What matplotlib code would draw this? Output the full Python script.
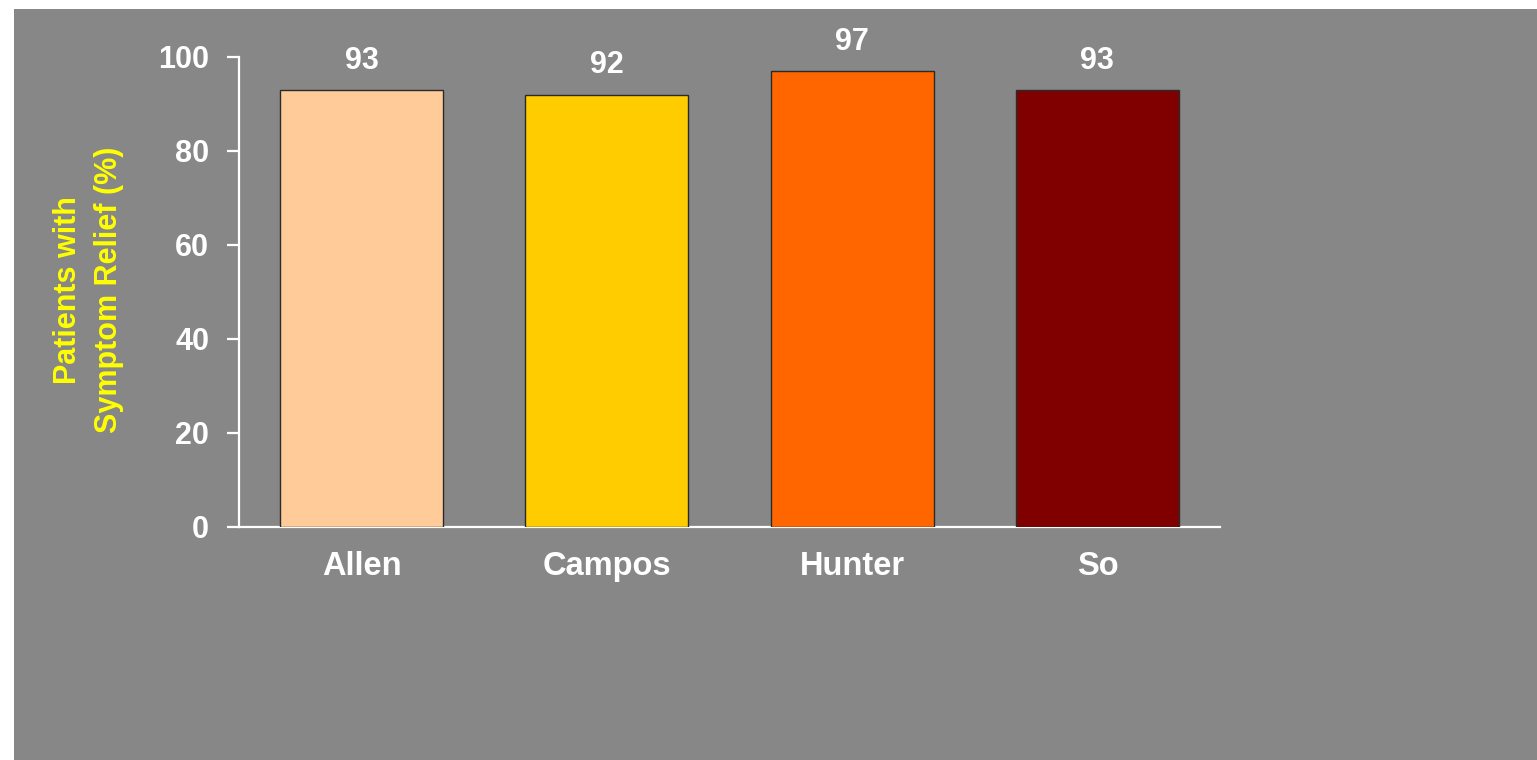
import matplotlib
matplotlib.use("Agg")
import matplotlib.pyplot as plt
from matplotlib.patches import Rectangle

plt.rcParams["font.family"] = ["Liberation Sans", "DejaVu Sans"]
plt.rcParams["font.weight"] = "bold"

# Data
studies = ["Allen", "Campos", "Hunter", "So"]
relief_pct = [93, 92, 97, 93]
bar_colors = ["#FFCC99", "#FFCC00", "#FF6600", "#800000"]
y_ticks = [0, 20, 40, 60, 80, 100]

W, H = 1537, 760
fig = plt.figure(figsize=(W / 100, H / 100), dpi=100, facecolor="white")

# Gray slide panel behind the chart
panel_color = "#878787"
fig.patches.append(Rectangle((14 / W, 0), 1 - 14 / W, (H - 9) / H,
                             transform=fig.transFigure, facecolor=panel_color,
                             edgecolor="none", zorder=-10))

ax = fig.add_axes([239 / W, (H - 527) / H, (1220 - 239) / W, (527 - 57) / H])
ax.set_facecolor("none")
ax.set_zorder(1)

x = range(len(studies))
bars = ax.bar(x, relief_pct, width=0.665, color=bar_colors,
              edgecolor="#2a2a2a", linewidth=1.0, zorder=3)

for b, v in zip(bars, relief_pct):
    ax.annotate(f"{v}", xy=(b.get_x() + b.get_width() / 2, v),
                xytext=(0, 21), textcoords="offset points",
                ha="center", va="center", color="white",
                fontsize=22, fontweight="bold", annotation_clip=False)

ax.set_xlim(-0.5, len(studies) - 0.5)
ax.set_ylim(0, 100)
ax.set_yticks(y_ticks)
ax.set_xticks(list(x))
ax.set_xticklabels(studies)

for side in ("top", "right"):
    ax.spines[side].set_visible(False)
for side in ("left", "bottom"):
    ax.spines[side].set_color("white")
    ax.spines[side].set_linewidth(1.6)

ax.tick_params(axis="y", direction="out", length=8.5, width=1.6,
               color="white", labelcolor="white", labelsize=22, pad=13)
ax.tick_params(axis="x", length=0, labelcolor="white", labelsize=23.5, pad=17)
for lbl in ax.get_xticklabels() + ax.get_yticklabels():
    lbl.set_fontweight("bold")

fig.text(88.5 / W, (H - 290) / H, "Patients with\nSymptom Relief (%)",
         rotation=90, ha="center", va="center", multialignment="center",
         color="#FFFF00", fontsize=22, fontweight="bold", linespacing=1.5)

fig.savefig("out.png", dpi=100, facecolor=fig.get_facecolor())
